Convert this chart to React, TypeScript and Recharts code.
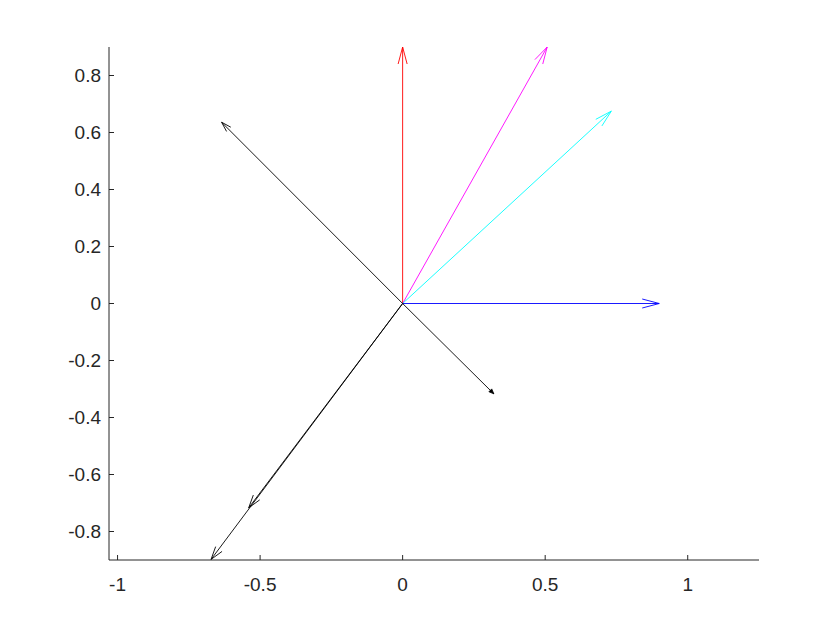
import React from 'react';
import { LineChart, Line, XAxis, YAxis } from 'recharts';

// ---- data ----
const arrowNames = ['red', 'magenta', 'cyan', 'blue', 'blackNW', 'blackSE', 'blackSW', 'blackSWmid'];
const arrowU = [0, 0.507, 0.732, 0.9, -0.635, 0.32, -0.672, -0.54];
const arrowV = [0.9, 0.9, 0.675, 0, 0.636, -0.317, -0.898, -0.717];
const originX = 0;
const originY = 0;

const xTicks = [-1, -0.5, 0, 0.5, 1];
const xTickLabels = ['-1', '-0.5', '0', '0.5', '1'];
const yTicks = [-0.8, -0.6, -0.4, -0.2, 0, 0.2, 0.4, 0.6, 0.8];
const yTickLabels = ['-0.8', '-0.6', '-0.4', '-0.2', '0', '0.2', '0.4', '0.6', '0.8'];
const xDomain = [-1.03, 1.25];
const yDomain = [-0.9, 0.9];

// ---- styles ----
const arrowStyle: Record<string, { color: string; head: number; half: number; filled: boolean }> = {
  red: { color: '#ff0000', head: 17, half: 4.5, filled: false },
  magenta: { color: '#ff00ff', head: 17, half: 4.5, filled: false },
  cyan: { color: '#00ffff', head: 17, half: 4.5, filled: false },
  blue: { color: '#0000ff', head: 17, half: 4.5, filled: false },
  blackNW: { color: '#000000', head: 10, half: 3, filled: false },
  blackSE: { color: '#000000', head: 5, half: 2, filled: true },
  blackSW: { color: '#000000', head: 13, half: 4, filled: false },
  blackSWmid: { color: '#000000', head: 13, half: 4, filled: false },
};

const AXIS_COLOR = '#262626';
const FONT = 'Liberation Sans, Arial, Helvetica, sans-serif';
const FONT_SIZE = 19;

const makeHead = (style: { color: string; head: number; half: number; filled: boolean }) => (props: any) => {
  const { cx, cy, index, points, payload } = props;
  if (index !== 1 || cx == null || cy == null) return <g key={`h-${index}`} />;
  let dx: number;
  let dy: number;
  if (points && points.length > 1) {
    dx = points[1].x - points[0].x;
    dy = points[1].y - points[0].y;
  } else {
    dx = payload.x;
    dy = -payload.y;
  }
  const len = Math.hypot(dx, dy) || 1;
  const ux = dx / len;
  const uy = dy / len;
  const bx = cx - ux * style.head;
  const by = cy - uy * style.head;
  const px = -uy;
  const py = ux;
  const p1x = bx + px * style.half;
  const p1y = by + py * style.half;
  const p2x = bx - px * style.half;
  const p2y = by - py * style.half;
  if (style.filled) {
    return (
      <polygon
        key={`h-${index}`}
        points={`${p1x},${p1y} ${cx},${cy} ${p2x},${p2y}`}
        fill={style.color}
        stroke={style.color}
        strokeWidth={0.8}
      />
    );
  }
  return (
    <path
      key={`h-${index}`}
      d={`M${p1x},${p1y} L${cx},${cy} L${p2x},${p2y}`}
      fill="none"
      stroke={style.color}
      strokeWidth={0.9}
    />
  );
};

const YTick = (props: any) => {
  const { x, y, payload, index } = props;
  const label = yTickLabels[yTicks.indexOf(payload.value)] ?? String(payload.value);
  return (
    <g key={`yt-${index}`}>
      <line x1={x} y1={y} x2={x + 5} y2={y} stroke={AXIS_COLOR} strokeWidth={1} />
      <text x={x - 8} y={y} dy="0.36em" textAnchor="end" fill={AXIS_COLOR} fontFamily={FONT} fontSize={FONT_SIZE}>
        {label}
      </text>
    </g>
  );
};

const XTick = (props: any) => {
  const { x, y, payload, index } = props;
  const label = xTickLabels[xTicks.indexOf(payload.value)] ?? String(payload.value);
  return (
    <g key={`xt-${index}`}>
      <line x1={x} y1={y} x2={x} y2={y - 5} stroke={AXIS_COLOR} strokeWidth={1} />
      <text x={x} y={y + 24} dy="0.36em" textAnchor="middle" fill={AXIS_COLOR} fontFamily={FONT} fontSize={FONT_SIZE}>
        {label}
      </text>
    </g>
  );
};

export default function App() {
  const series = arrowNames.map((name, i) => ({
    name,
    data: [
      { x: originX, y: originY },
      { x: arrowU[i], y: arrowV[i] },
    ],
  }));
  return (
    <div style={{ position: 'absolute', left: 0, top: 0, width: 840, height: 630, background: '#ffffff' }}>
      <LineChart width={840} height={630} margin={{ top: 47, right: 81, left: 0, bottom: 0 }}>
        <XAxis
          type="number"
          dataKey="x"
          domain={xDomain}
          ticks={xTicks}
          interval={0}
          allowDataOverflow
          height={70}
          tickSize={0}
          tickMargin={0}
          tickLine={false}
          axisLine={{ stroke: AXIS_COLOR, strokeWidth: 1 }}
          tick={<XTick />}
        />
        <YAxis
          type="number"
          dataKey="y"
          domain={yDomain}
          ticks={yTicks}
          interval={0}
          allowDataOverflow
          width={109}
          tickSize={0}
          tickMargin={0}
          tickLine={false}
          axisLine={{ stroke: AXIS_COLOR, strokeWidth: 1 }}
          tick={<YTick />}
        />
        {series.map((s) => (
          <Line
            key={s.name}
            data={s.data}
            dataKey="y"
            type="linear"
            stroke={arrowStyle[s.name].color}
            strokeWidth={0.9}
            dot={makeHead(arrowStyle[s.name])}
            activeDot={false}
            isAnimationActive={false}
          />
        ))}
      </LineChart>
    </div>
  );
}
